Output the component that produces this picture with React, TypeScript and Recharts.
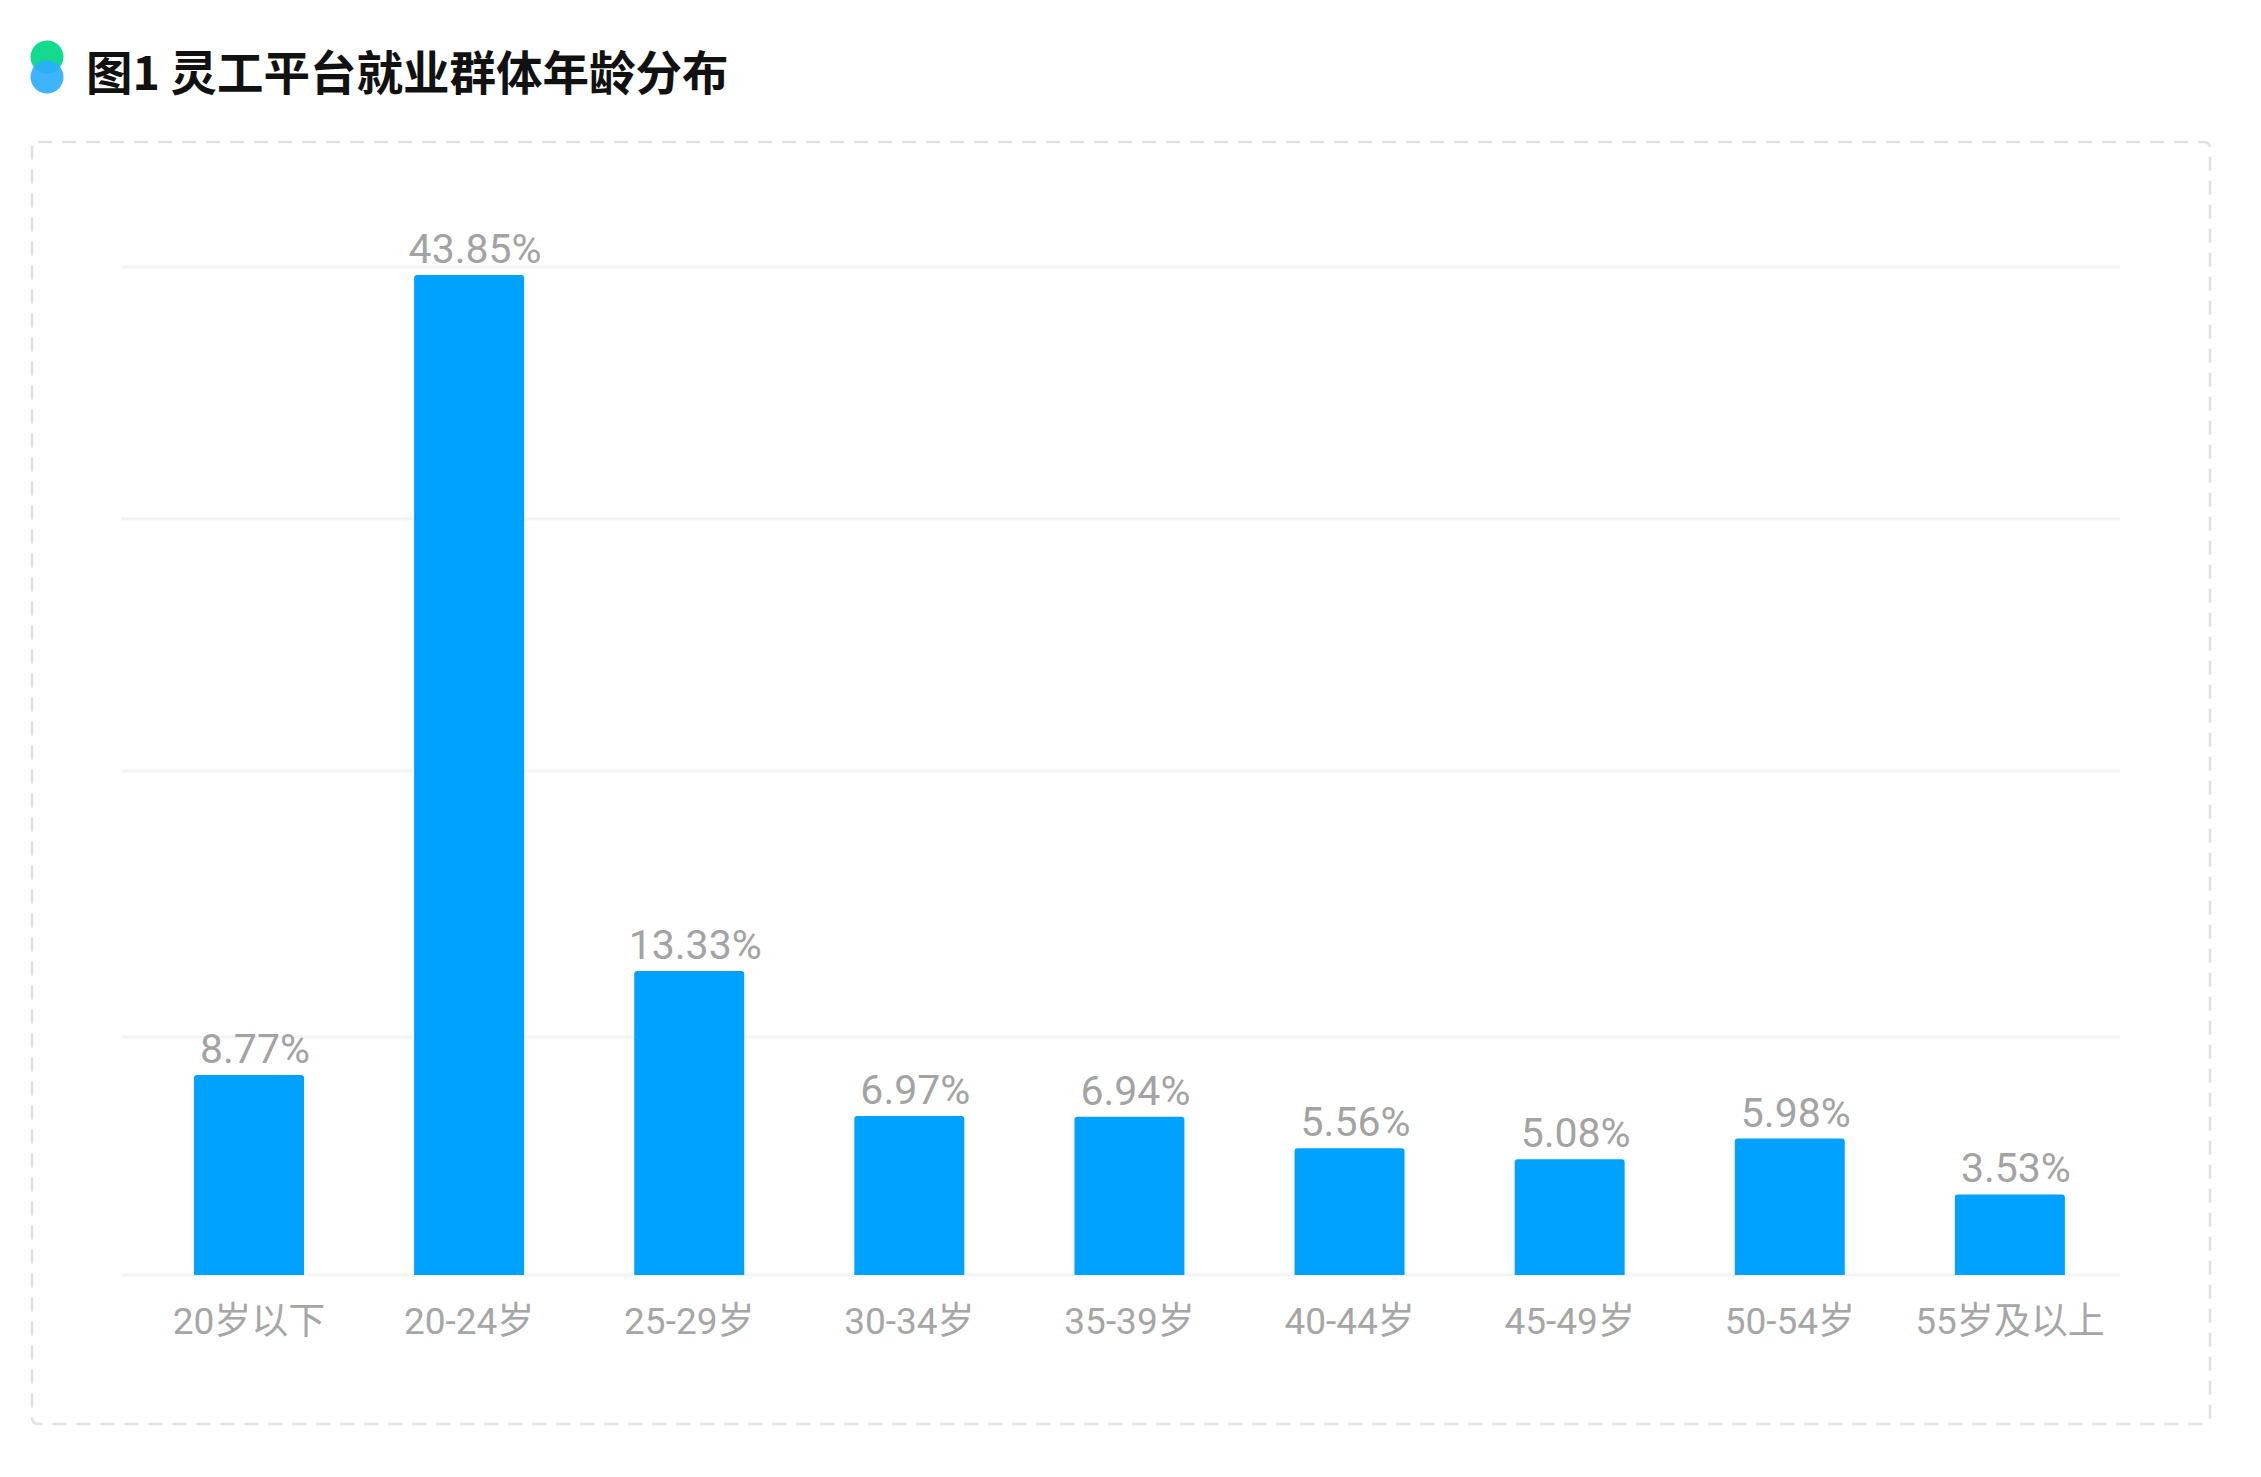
import { Bar, BarChart, CartesianGrid, LabelList, XAxis, YAxis } from 'recharts'

const ageGroups = ['20岁以下', '20-24岁', '25-29岁', '30-34岁', '35-39岁', '40-44岁', '45-49岁', '50-54岁', '55岁及以上']
const shares = [8.77, 43.85, 13.33, 6.97, 6.94, 5.56, 5.08, 5.98, 3.53]
// unlabelled gridlines
const gridValues = [0, 10.44, 22.1, 33.15, 44.2]

const data = ageGroups.map((group, i) => ({ group, share: shares[i] }))

const W = 2261
const H = 1477
const FONT = "Roboto, 'Noto Sans CJK SC', sans-serif"

export default function App() {
  return (
    <div style={{ position: 'relative', width: W, height: H, background: '#fff', overflow: 'hidden' }}>
      <style>{'body{margin:0}'}</style>
      <svg width={70} height={75} style={{ position: 'absolute', left: 14, top: 27 }}>
        <circle cx={33} cy={30} r={16.5} fill="#13da8e" />
        <circle cx={33} cy={50} r={16.5} fill="#2eadff" fillOpacity={0.92} />
      </svg>
      <div
        style={{
          position: 'absolute',
          left: 86,
          top: 40,
          fontFamily: "'Noto Sans CJK SC', sans-serif",
          fontWeight: 700,
          fontSize: 46.5,
          lineHeight: '60px',
          color: '#111',
          whiteSpace: 'nowrap',
        }}
      >
        图1 灵工平台就业群体年龄分布
      </div>
      <svg width={W} height={H} style={{ position: 'absolute', left: 0, top: 0 }}>
        <rect
          x={32}
          y={142}
          width={2178}
          height={1282}
          rx={6}
          fill="none"
          stroke="#e2e2e2"
          strokeWidth={2.5}
          strokeDasharray="14 10"
        />
      </svg>
      <div style={{ position: 'absolute', left: 0, top: 0 }}>
        <BarChart
          width={W}
          height={H}
          data={data}
          margin={{ top: 267, right: 141, bottom: 142, left: 121 }}
        >
          <CartesianGrid vertical={false} stroke="#f3f3f3" strokeWidth={3} />
          <XAxis
            dataKey="group"
            height={60}
            interval={0}
            axisLine={false}
            tickLine={false}
            tickSize={0}
            tickMargin={33}
            padding={{ left: 18, right: 0 }}
            tick={{ fill: '#a6a6a6', fontSize: 37, fontFamily: FONT }}
          />
          <YAxis hide domain={[0, 44.2]} ticks={gridValues} />
          <Bar dataKey="share" fill="#00a2ff" barSize={110} radius={[3, 3, 0, 0]} isAnimationActive={false}>
            <LabelList
              dataKey="share"
              position="top"
              offset={12}
              dx={6}
              formatter={(v) => `${v}%`}
              style={{ fill: '#a3a3a3', fontSize: 41, fontFamily: FONT }}
            />
          </Bar>
        </BarChart>
      </div>
    </div>
  )
}
